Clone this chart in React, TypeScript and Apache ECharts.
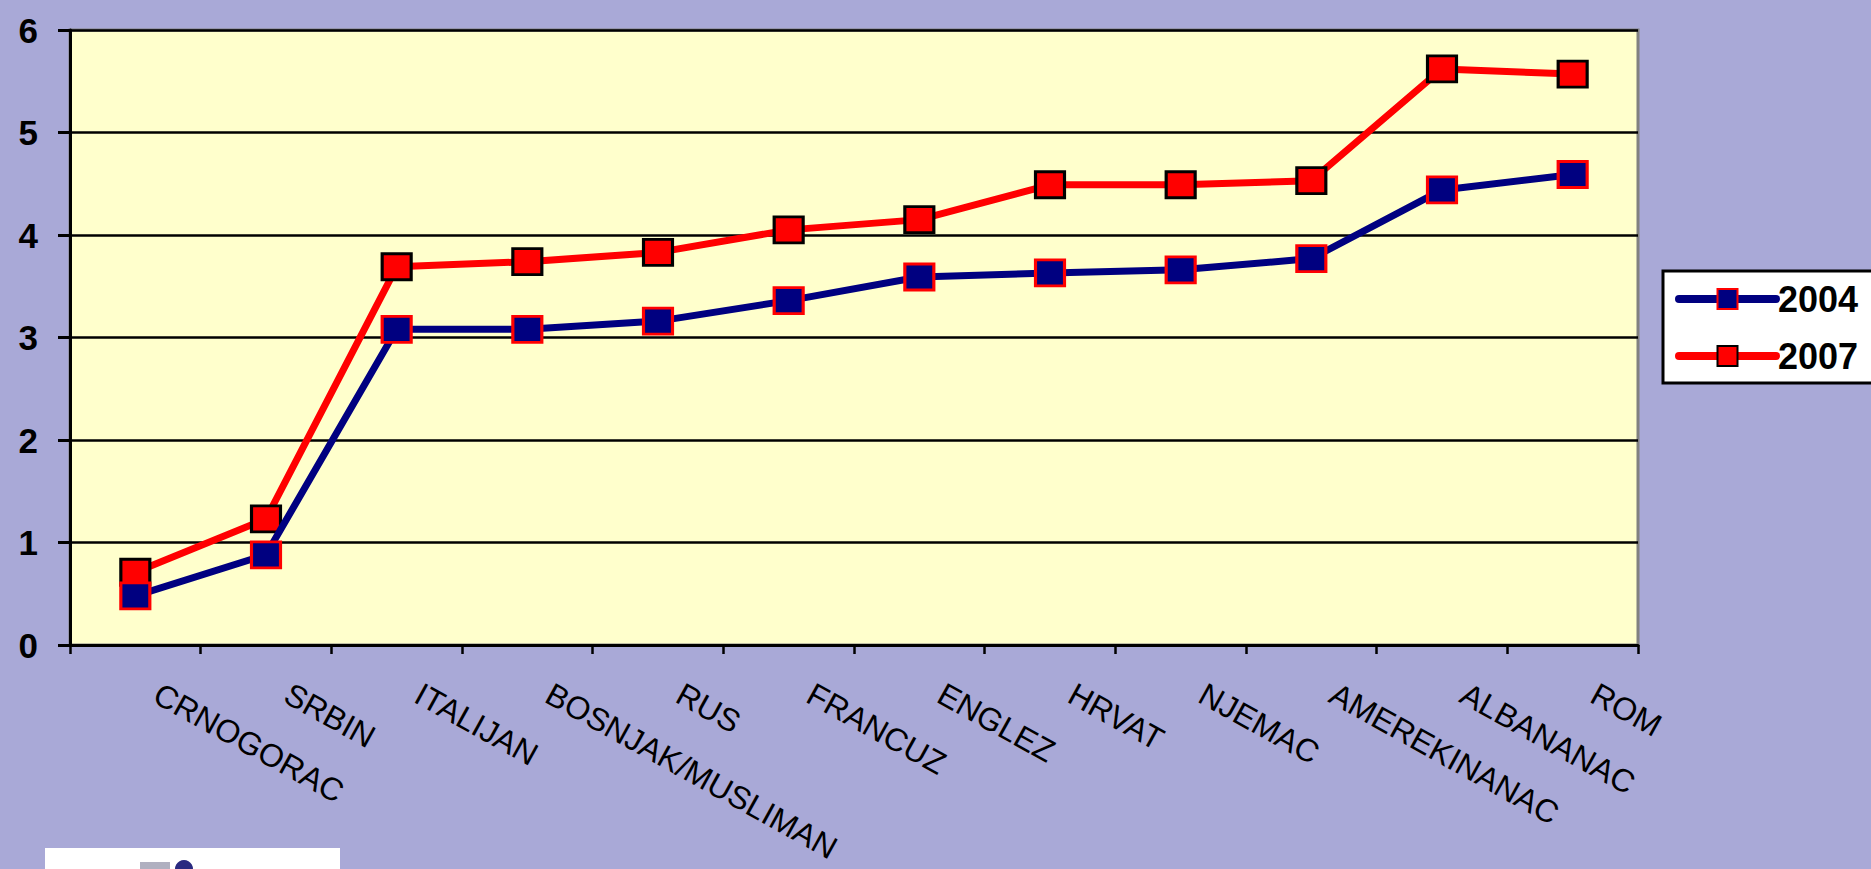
import React, { useEffect, useRef } from "react";
import * as echarts from "echarts";

const categories = [
  "CRNOGORAC",
  "SRBIN",
  "ITALIJAN",
  "BOSNJAK/MUSLIMAN",
  "RUS",
  "FRANCUZ",
  "ENGLEZ",
  "HRVAT",
  "NJEMAC",
  "AMEREKINANAC",
  "ALBANANAC",
  "ROM",
];
const values2004 = [0.48, 0.88, 3.08, 3.08, 3.16, 3.36, 3.59, 3.63, 3.66, 3.77, 4.44, 4.59];
const values2007 = [0.71, 1.23, 3.69, 3.74, 3.83, 4.05, 4.15, 4.49, 4.49, 4.53, 5.62, 5.57];
const yTicks = [0, 1, 2, 3, 4, 5, 6];

export default function App() {
  const ref = useRef<HTMLDivElement>(null);
  useEffect(() => {
    if (!ref.current) return;
    const chart = echarts.init(ref.current, undefined, { renderer: "svg" });
    const font = "'Liberation Sans', Arial, sans-serif";
    chart.setOption({
      animation: false,
      backgroundColor: "#A9A9D7",
      textStyle: { fontFamily: font },
      grid: {
        left: 70,
        right: 233,
        top: 30,
        bottom: 224,
        containLabel: false,
        outerBoundsMode: "none",
        show: true,
        backgroundColor: "#FFFFCC",
        borderColor: "#808080",
        borderWidth: 3,
      },
      legend: {
        left: 1663,
        top: 271,
        orient: "vertical",
        backgroundColor: "#FFFFFF",
        borderColor: "#000000",
        borderWidth: 3,
        padding: [10, 40, 9, 12],
        itemWidth: 97,
        itemHeight: 25,
        itemGap: 21,
        lineStyle: { width: 8, cap: "round" },
        textStyle: { fontSize: 36, fontWeight: "bold", color: "#000", fontFamily: font, padding: [0, 0, 0, -3] },
        data: ["2004", "2007"],
      },
      xAxis: {
        type: "category",
        data: categories,
        boundaryGap: true,
        axisLine: { lineStyle: { color: "#000", width: 3 } },
        axisTick: { show: true, alignWithLabel: false, length: 9, lineStyle: { color: "#000", width: 2.5 } },
        axisLabel: {
          rotate: -29,
          interval: 0,
          margin: 35,
          padding: [0, 0, 0, 24],
          fontSize: 32,
          lineHeight: 32,
          color: "#000",
          fontFamily: font,
          hideOverlap: false,
        },
        splitLine: { show: false },
      },
      yAxis: {
        type: "value",
        min: yTicks[0],
        max: yTicks[yTicks.length - 1],
        interval: 1,
        axisLine: { show: true, lineStyle: { color: "#000", width: 3 } },
        axisTick: { show: true, length: 12, lineStyle: { color: "#000", width: 3 } },
        axisLabel: {
          margin: 32,
          fontSize: 35,
          fontWeight: "bold",
          color: "#000",
          fontFamily: font,
        },
        splitLine: { show: true, lineStyle: { color: "#000", width: 2.5 } },
      },
      series: [
        {
          name: "2004",
          type: "line",
          data: values2004,
          symbol: "rect",
          symbolSize: [29, 26],
          lineStyle: { color: "#000080", width: 7 },
          itemStyle: { color: "#000080", borderColor: "#FF0000", borderWidth: 3 },
          z: 3,
        },
        {
          name: "2007",
          type: "line",
          data: values2007,
          symbol: "rect",
          symbolSize: [29, 26],
          lineStyle: { color: "#FF0000", width: 7 },
          itemStyle: { color: "#FF0000", borderColor: "#000000", borderWidth: 3 },
          z: 2,
        },
      ],
      graphic: [
        {
          type: "rect",
          left: 45,
          top: 848,
          shape: { width: 295, height: 30 },
          style: { fill: "#FFFFFF" },
        },
        {
          type: "rect",
          left: 140,
          top: 862,
          shape: { width: 30, height: 10 },
          style: { fill: "#B0B0C0" },
        },
        {
          type: "circle",
          left: 175,
          top: 860,
          shape: { r: 9 },
          style: { fill: "#2A2A80" },
        },
      ],
    });
    return () => chart.dispose();
  }, []);
  return (
    <div
      ref={ref}
      style={{ position: "absolute", left: 0, top: 0, width: 1871, height: 869 }}
    />
  );
}
